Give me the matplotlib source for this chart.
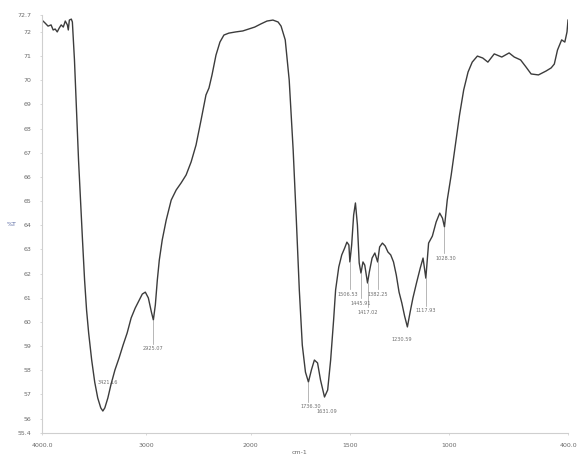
import numpy as np
import matplotlib
matplotlib.use('Agg')
import matplotlib.pyplot as plt

# spectrum (wavenumber in cm-1, %T)
wn = [4000, 3971, 3942, 3913, 3893, 3874, 3854, 3835, 3816, 3796, 3777, 3757, 3748, 3738, 3719, 3709,
      3689, 3670, 3650, 3631, 3612, 3592, 3573, 3553, 3524, 3495, 3466, 3437, 3417, 3398, 3369, 3340,
      3301, 3262, 3223, 3184, 3146, 3107, 3068, 3039, 3010, 2981, 2952, 2933, 2914, 2895, 2876, 2848,
      2810, 2762, 2714, 2667, 2619, 2571, 2524, 2476, 2429, 2400, 2371, 2333, 2295, 2257, 2210, 2143,
      2076, 2019, 1980, 1949, 1918, 1888, 1862, 1847, 1826, 1806, 1786, 1770, 1755, 1740, 1724, 1709,
      1694, 1679, 1663, 1648, 1628, 1612, 1597, 1582, 1572, 1556, 1541, 1526, 1515, 1505, 1500, 1491,
      1481, 1472, 1462, 1453, 1444, 1434, 1425, 1411, 1402, 1388, 1374, 1360, 1350, 1336, 1322, 1308,
      1294, 1280, 1266, 1252, 1238, 1224, 1210, 1196, 1182, 1164, 1145, 1131, 1117, 1103, 1084, 1065,
      1047, 1033, 1023, 1009, 989, 968, 947, 926, 904, 883, 857, 830, 804, 772, 734, 697, 671, 639,
      612, 586, 549, 511, 485, 469, 453, 432, 416, 405, 400]
T = [72.49, 72.37, 72.24, 72.29, 72.08, 72.12, 72.00, 72.16, 72.29, 72.20, 72.45, 72.29, 72.08, 72.49, 72.53, 72.41,
     70.84, 68.77, 66.70, 65.04, 63.39, 61.73, 60.49, 59.54, 58.42, 57.51, 56.85, 56.44, 56.31, 56.44, 56.85, 57.39,
     58.01, 58.50, 59.04, 59.54, 60.16, 60.57, 60.90, 61.15, 61.23, 60.99, 60.41, 60.08, 60.70, 61.73, 62.56, 63.39,
     64.21, 65.04, 65.46, 65.75, 66.08, 66.62, 67.32, 68.35, 69.39, 69.68, 70.22, 71.04, 71.58, 71.87, 71.95, 72.00,
     72.04, 72.12, 72.20, 72.33, 72.45, 72.49, 72.41, 72.24, 71.67, 70.01, 67.11, 64.21, 61.32, 59.04, 57.92, 57.51,
     58.01, 58.42, 58.30, 57.59, 56.89, 57.18, 58.42, 60.08, 61.32, 62.27, 62.77, 63.06, 63.30, 63.18, 62.48, 63.18,
     64.42, 64.92, 64.01, 62.44, 62.02, 62.48, 62.35, 61.61, 62.06, 62.64, 62.85, 62.48, 63.10, 63.26, 63.14, 62.89,
     62.77, 62.48, 61.94, 61.23, 60.78, 60.24, 59.79, 60.41, 60.99, 61.61, 62.23, 62.64, 61.81, 63.26, 63.55, 64.13,
     64.50, 64.29, 63.93, 65.04, 66.08, 67.32, 68.56, 69.60, 70.34, 70.75, 71.00, 70.92, 70.75, 71.09, 70.96, 71.13, 70.96, 70.84,
     70.55, 70.26, 70.22, 70.38, 70.51, 70.67, 71.25, 71.67, 71.58, 72.00, 72.49]

# peak labels: text, peak position, %T at peak, label x, label %T
pk_text = ['3421.16', '2925.07', '1736.30', '1631.09', '1506.53', '1382.25', '1445.91', '1417.02',
           '1230.59', '1117.93', '1028.30']
pk_wn = [3417, 2933, 1709, 1628, 1500, 1360, 1444, 1411, 1210, 1117, 1023]
pk_T = [56.31, 60.08, 57.51, 56.89, 62.48, 62.48, 62.02, 61.61, 59.79, 61.81, 63.93]
lab_wn = [3369, 2933, 1699, 1615, 1510, 1360, 1444, 1411, 1239, 1117, 1015]
lab_T = [57.47, 58.88, 56.50, 56.30, 61.15, 61.15, 60.78, 60.40, 59.25, 60.45, 62.64]

xticks = [4000, 3000, 2000, 1500, 1000, 400]
xlabels = ['4000.0', '3000', '2000', '1500', '1000', '400.0']
yticks = [55.4] + list(range(56, 73)) + [72.7]
ylabels = ['55.4'] + [str(v) for v in range(56, 73)] + ['72.7']

F = 1.9  # expansion below 2000 cm-1
def fwd(w):
    w = np.asarray(w, dtype=float)
    return np.where(w >= 2000, w, 2000 - (2000 - w) * F)
def inv(v):
    v = np.asarray(v, dtype=float)
    return np.where(v >= 2000, v, 2000 - (2000 - v) / F)

fig = plt.figure(figsize=(5.79, 4.57), dpi=100)
ax = fig.add_axes([42/579, 1 - 433/457, 526/579, 418/457])
ax.set_xscale('function', functions=(fwd, inv))
ax.plot(wn, T, color='#3c3c3c', lw=1.0)

for s, pw, pt, lw_, lt in zip(pk_text, pk_wn, pk_T, lab_wn, lab_T):
    if abs(pw - lw_) < 15 and pt - lt > 0.6:
        ax.plot([pw, pw], [pt, lt + 0.2], color='#9a9a9a', lw=0.5)
    ax.text(lw_, lt, s, fontsize=3.6, color='#707070', ha='center', va='center')

ax.set_xlim(4000, 400)
ax.set_ylim(55.4, 72.7)
ax.set_xticks(xticks)
ax.set_xticklabels(xlabels)
ax.set_yticks(yticks)
ax.set_yticklabels(ylabels)
ax.tick_params(axis='both', labelsize=4.5, labelcolor='#6a6a6a', length=1.5, width=0.4, color='#bbbbbb', pad=6)
for sp in ['top', 'right']:
    ax.spines[sp].set_visible(False)
for sp in ['left', 'bottom']:
    ax.spines[sp].set_color('#cfcfcf')
    ax.spines[sp].set_linewidth(0.8)

fig.text(12/579, 1 - 225/457, '%T', fontsize=4.5, color='#5566a0', ha='center', va='center')
fig.text(300/579, 1 - 452/457, 'cm-1', fontsize=4.5, color='#6a6a6a', ha='center', va='center')

fig.savefig('out.png', dpi=100, facecolor='white')
